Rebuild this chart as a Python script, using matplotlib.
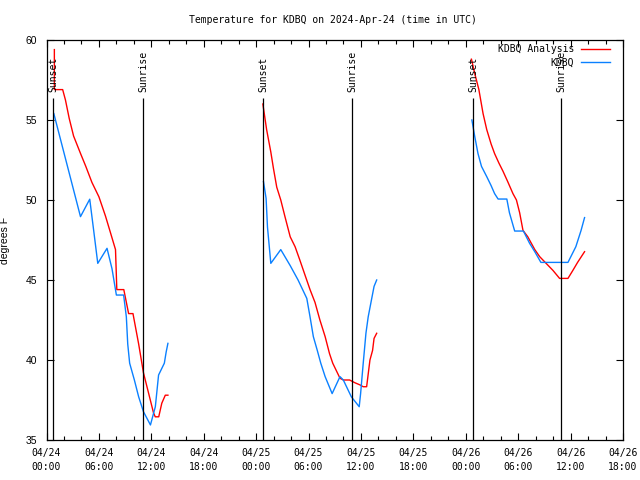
import matplotlib
matplotlib.use("Agg")
import matplotlib.pyplot as plt
import matplotlib.dates as mdates
import numpy as np
import pandas as pd

START = pd.Timestamp("2024-04-24 00:00")
END = pd.Timestamp("2024-04-26 18:00")

# hours since 2024-04-24 00:00 UTC, temperatures in degrees F
analysis_hours = [
    [0.9, 0.9, 1.85, 2.17, 2.6, 3.1, 3.9, 4.5, 5.2, 6.0, 6.75, 7.3, 7.9, 8.05, 8.85,
     9.4, 9.9, 10.55, 11.1, 11.7, 12.25, 12.45, 12.85, 13.2, 13.6, 13.9],
    [24.77, 25.2, 25.68, 25.98, 26.36, 26.82, 27.3, 27.9, 28.46, 29.0, 29.6, 30.17,
     30.74, 31.3, 31.9, 32.4, 32.77, 33.3, 33.6, 33.98, 34.7, 35.3, 35.9, 36.26,
     36.65, 37.03, 37.33, 37.5, 37.8],
    [48.65, 49.03, 49.5, 49.98, 50.4, 50.9, 51.3, 51.8, 52.26, 52.8, 53.4, 53.8,
     54.17, 54.55, 55.1, 55.9, 56.46, 57.2, 57.98, 58.74, 59.7, 60.26, 60.8, 61.6],
]
analysis_temps = [
    [59.4, 56.9, 56.9, 56.25, 55.1, 54.0, 52.9, 52.1, 51.1, 50.2, 49.0, 48.0, 46.9,
     44.4, 44.4, 42.9, 42.9, 41.0, 39.2, 37.9, 36.7, 36.45, 36.45, 37.3, 37.8, 37.8],
    [56.0, 54.4, 53.0, 51.98, 50.8, 50.0, 48.96, 47.7, 47.08, 46.25, 45.3, 44.4,
     43.6, 42.5, 41.46, 40.4, 39.8, 39.2, 38.86, 38.75, 38.75, 38.58, 38.44, 38.33,
     38.33, 40.0, 40.6, 41.35, 41.67],
    [58.8, 57.9, 56.9, 55.4, 54.4, 53.5, 52.9, 52.3, 51.8, 51.15, 50.4, 50.0, 49.2,
     48.1, 47.7, 46.9, 46.46, 46.04, 45.6, 45.1, 45.1, 45.6, 46.1, 46.77],
]
obs_hours = [
    [0.84, 3.89, 4.95, 5.4, 5.87, 6.93, 7.5, 8.0, 8.83, 9.14, 9.3, 9.52, 10.06,
     10.55, 11.1, 11.9, 12.46, 12.83, 13.49, 13.7, 13.9],
    [24.84, 25.14, 25.3, 25.68, 26.82, 27.9, 28.8, 29.8, 30.17, 30.55, 31.0, 31.4,
     31.9, 32.7, 33.6, 33.98, 34.9, 35.8, 35.96, 36.26, 36.57, 36.83, 37.2, 37.5, 37.8],
    [48.7, 49.03, 49.4, 49.8, 50.4, 50.9, 51.3, 51.7, 52.7, 53.0, 53.6, 54.6, 55.3,
     55.9, 56.6, 59.7, 60.6, 61.2, 61.6],
]
obs_temps = [
    [55.4, 48.96, 50.05, 48.1, 46.04, 46.98, 45.7, 44.06, 44.06, 42.7, 41.0, 39.8,
     38.75, 37.7, 36.77, 35.94, 37.08, 39.06, 39.8, 40.5, 41.04],
    [51.15, 50.1, 48.3, 46.04, 46.9, 45.9, 45.0, 43.85, 42.7, 41.46, 40.6, 39.8,
     38.96, 37.9, 38.96, 38.75, 37.7, 37.08, 37.9, 39.8, 41.67, 42.7, 43.75, 44.6, 45.0],
    [55.0, 53.96, 52.9, 52.1, 51.46, 50.9, 50.4, 50.06, 50.06, 49.2, 48.06, 48.06,
     47.3, 46.77, 46.1, 46.1, 47.08, 48.1, 48.9],
]
sunset_hours = [0.74, 24.79, 48.83]
sunrise_hours = [11.05, 34.98, 58.9]
event_top = 56.375
event_label_y = 56.75

y_ticks = [35, 40, 45, 50, 55, 60]
title = "Temperature for KDBQ on 2024-Apr-24 (time in UTC)"
ylabel = "degrees F"
series_labels = ["KDBQ Analysis", "KDBQ"]
RED = "#ff0000"
BLUE = "#0a80ff"
MONO = "DejaVu Sans Mono"
SANS = "Liberation Sans"


def to_time(hours):
    return START + pd.to_timedelta(np.asarray(hours, dtype=float), unit="h")


fig = plt.figure(figsize=(6.4, 4.8), dpi=100)
ax = fig.add_axes([46.5 / 640, 40 / 480, 576.5 / 640, 400 / 480])

for i, (h, t) in enumerate(zip(analysis_hours, analysis_temps)):
    ax.plot(to_time(h), t, color=RED, lw=1.0, label=series_labels[0] if i == 0 else None)
for i, (h, t) in enumerate(zip(obs_hours, obs_temps)):
    ax.plot(to_time(h), t, color=BLUE, lw=1.0, label=series_labels[1] if i == 0 else None)

for hours, name in ((sunset_hours, "Sunset"), (sunrise_hours, "Sunrise")):
    for tm in to_time(hours):
        ax.vlines(tm, 35, event_top, color="black", lw=0.9)
        ax.text(tm, event_label_y, name, rotation=90, ha="center", va="bottom",
                family=MONO, fontsize=7)

ax.set_xlim(START, END)
ax.set_ylim(35, 60)
ax.set_yticks(y_ticks)
ax.xaxis.set_major_locator(mdates.HourLocator(byhour=[0, 6, 12, 18]))
ax.xaxis.set_minor_locator(mdates.HourLocator(byhour=range(0, 24, 2)))
ax.xaxis.set_major_formatter(mdates.DateFormatter("%m/%d\n%H:%M"))

ax.tick_params(axis="both", which="both", direction="in", top=True, right=True, width=0.8)
ax.tick_params(axis="both", which="major", length=5)
ax.tick_params(axis="both", which="minor", length=3)
ax.tick_params(axis="x", which="major", pad=6, labelsize=7)
ax.tick_params(axis="y", which="major", pad=7, labelsize=7.5)
for lbl in ax.get_xticklabels():
    lbl.set_family(MONO)
    lbl.set_linespacing(1.45)
for lbl in ax.get_yticklabels():
    lbl.set_family(SANS)

for sp in ax.spines.values():
    sp.set_linewidth(0.9)

ax.set_ylabel(ylabel, family=SANS, fontsize=7.5)
ax.yaxis.set_label_coords((10 - 46.5) / 576.5, 0.5)

fig.text(332.5 / 640, 1 - 20 / 480, title, ha="center", va="center", family=MONO, fontsize=7)

leg = ax.legend(loc="upper right", bbox_to_anchor=((610 - 46.5) / 576.5, (440 - 44.5) / 400),
                frameon=False, markerfirst=False, borderaxespad=0, borderpad=0,
                handlelength=3.0, handletextpad=0.7, labelspacing=0.28,
                prop={"family": MONO, "size": 7})

fig.savefig("out.png", dpi=100)
